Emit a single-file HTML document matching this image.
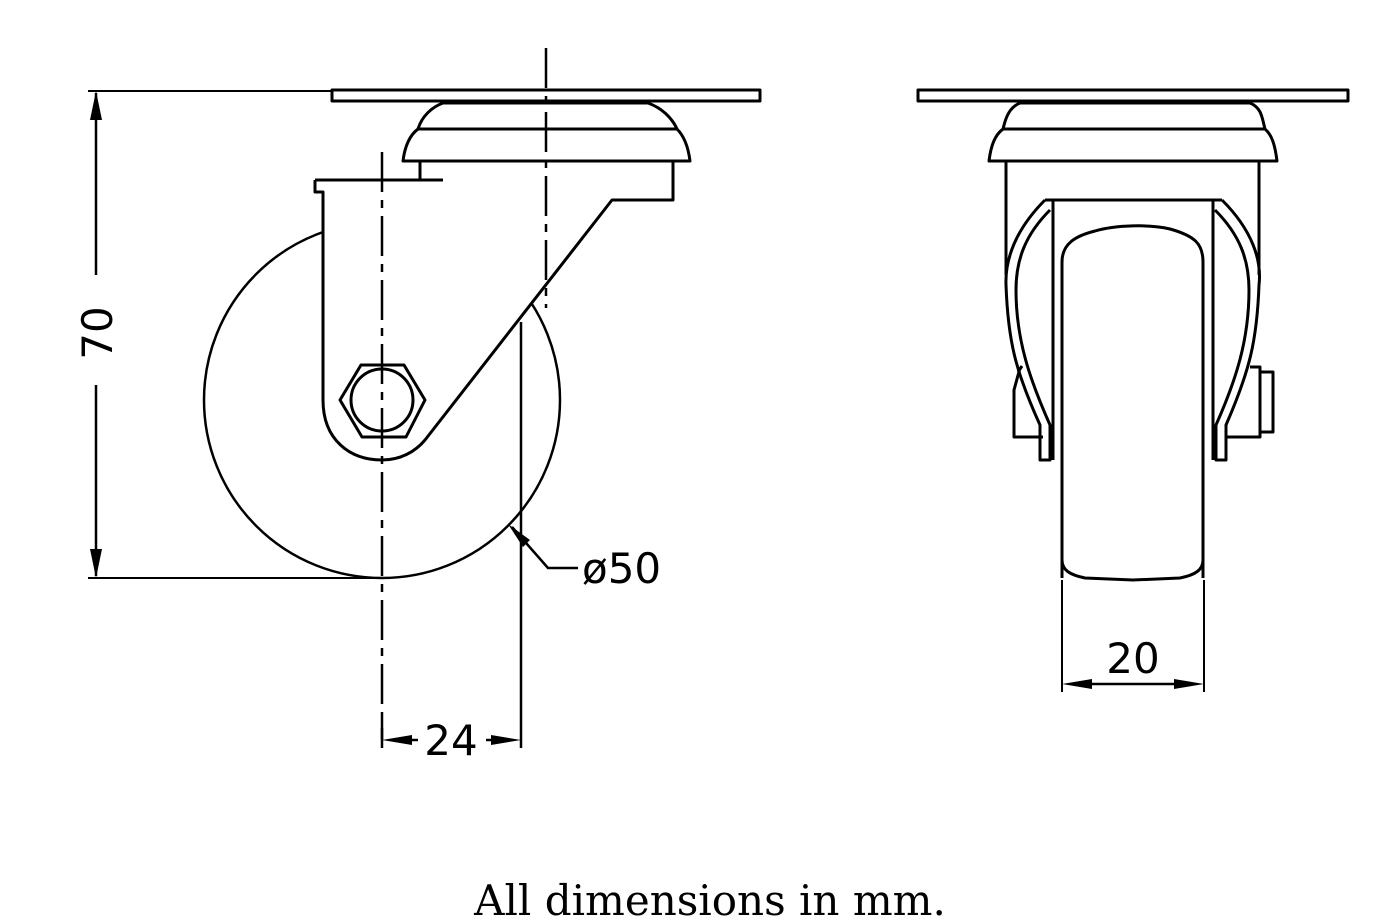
<!DOCTYPE html>
<html><head><meta charset="utf-8"><style>
html,body{margin:0;padding:0;background:#fff;}
svg{display:block}
</style></head><body>
<svg width="1398" height="923" viewBox="0 0 1398 923" xmlns="http://www.w3.org/2000/svg">
<g fill="none" stroke="#000" stroke-width="3" stroke-linejoin="round">
<circle cx="382" cy="400" r="178" stroke-width="2.5"/>
<path d="M323 192 V400 C323 440 350 460 382 460 C400 460 415 452 425 440 L612 200 H673 V161 H420 V180 H315 V192 Z" fill="#fff" stroke="none"/>
<path d="M315 180 H443 M420 161 V180 M315 180 V192 H323 V400 C323 440 350 460 382 460 C400 460 415 452 425 440 L612 200 H673 V161"/>
<rect x="332" y="90" width="428" height="11" fill="#fff"/>
<path d="M443 103 H648 C662 108 672 118 677 129 C683 135 688 145 690 161 H403 C405 145 410 135 418 129 C422 116 432 107 443 103 Z M418 129 H677" fill="#fff"/>
<polygon points="340,400 361,365 404,365 425,400 406,437 362,437"/>
<circle cx="382" cy="400" r="31"/>
<path d="M382 152 V740" stroke-dasharray="40,8,8,8" stroke-width="2.5"/>
<path d="M546 48 V308" stroke-dasharray="40,8,8,8" stroke-width="2.5"/>
<path d="M521 322 V748 M382 720 V748" stroke-width="2.5"/>
<path d="M88 91 H332 M88 578 H382" stroke-width="2"/>
<path d="M96 93 V275 M96 385 V576" stroke-width="2.5"/>
<path d="M396 740 H418 M486 740 H508" stroke-width="2.5"/>
<path d="M512 527 L548 568 H578" stroke-width="2.5"/>
<path d="M1006 161 V275 M1259 161 V275"/>
<path d="M1045 200 H1222"/>
<path d="M1053 200 V460 M1213 200 V460"/>
<path d="M1062 578 V262 C1062 244 1075 236 1095 231 C1115 225 1150 224 1170 229 C1195 236 1203 244 1203 262 V578" />
<path d="M1062 560 C1062 570 1070 575 1085 578 L1133 580 L1180 578 C1195 575 1203 570 1203 560"/>
<path d="M1045 200 C1015 230 1005 260 1006 285 C1008 340 1015 370 1040 425 V460 H1050 V425 C1030 380 1016 340 1016 290 C1016 260 1025 235 1050 210"/>
<path d="M1222 200 C1252 230 1262 260 1259 285 C1257 340 1250 370 1226 425 V460 H1216 V425 C1236 380 1249 340 1249 290 C1249 260 1240 235 1215 210"/>
<path d="M1020 368 L1014 390 V437 H1043 M1022 366 L1018 372"/>
<path d="M1250 367 H1260 V437 H1250 M1260 372 H1273 V432 H1260 M1226 437 H1250"/>
<rect x="918" y="90" width="430" height="11" fill="#fff"/>
<path d="M1020 103 H1250 C1262 108 1262 118 1265 129 C1272 135 1275 145 1277 161 H989 C991 145 995 135 1003 129 C1006 116 1010 107 1020 103 Z M1003 129 H1265" fill="#fff"/>
<path d="M1062 580 V692 M1204 580 V692" stroke-width="2"/>
<path d="M1075 684 H1190" stroke-width="2.5"/>
</g>
<g fill="#000">
<polygon points="96,91 90,120 102,120"/>
<polygon points="96,578 90,549 102,549"/>
<polygon points="382,740 412,735 412,745"/>
<polygon points="521,740 491,735 491,745"/>
<polygon points="508,524 530,540 523,547"/>
<polygon points="1062,684 1092,679 1092,689"/>
<polygon points="1204,684 1174,679 1174,689"/>
</g>
<g font-family="DejaVu Sans, Liberation Sans, sans-serif" font-size="42" fill="#000">
<text x="451" y="755" text-anchor="middle">24</text>
<text x="582" y="583">ø50</text>
<text x="1133" y="673" text-anchor="middle">20</text>
<text x="0" y="0" text-anchor="middle" transform="translate(112,333) rotate(-90)">70</text>
</g>
<text x="710" y="915" text-anchor="middle" font-family="DejaVu Serif, Liberation Serif, serif" font-size="42" fill="#000">All dimensions in mm.</text>
</svg>
</body></html>
